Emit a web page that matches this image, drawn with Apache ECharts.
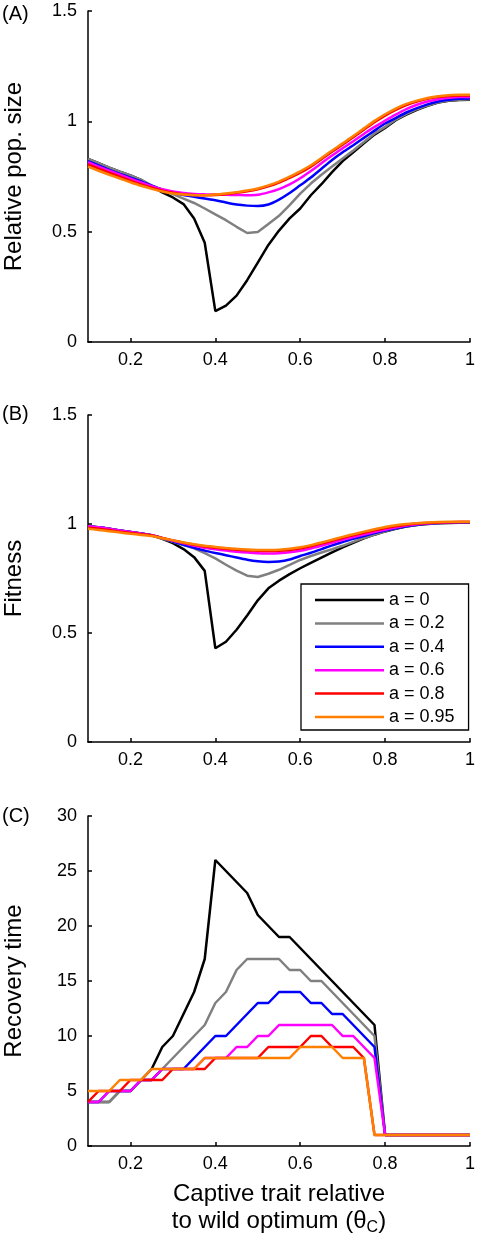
<!DOCTYPE html>
<html>
<head>
<meta charset="utf-8">
<script src="https://cdn.jsdelivr.net/npm/echarts@6/dist/echarts.min.js"></script>
<style>html,body{margin:0;padding:0;background:#fff;}#main{width:478px;height:1247px;}</style>
</head>
<body>
<div id="main"></div>
<script>
// ---- data ----
const xs = [0.1,0.125,0.15,0.175,0.2,0.225,0.25,0.275,0.3,0.325,0.35,0.375,0.4,0.425,0.45,0.475,0.5,0.525,0.55,0.575,0.6,0.625,0.65,0.675,0.7,0.725,0.75,0.775,0.8,0.825,0.85,0.875,0.9,0.925,0.95,0.975,1];
const seriesNames = ['a = 0','a = 0.2','a = 0.4','a = 0.6','a = 0.8','a = 0.95'];
const xTickValues = [0.2,0.4,0.6,0.8,1];
const xTickLabels = ['0.2','0.4','0.6','0.8','1'];
const yTickLabelsAB = ['0','0.5','1','1.5'];
const panelLabels = ['(A)','(B)','(C)'];
const yTitles = ['Relative pop. size','Fitness','Recovery time'];

// Panel A: relative population size
const popA0    = [0.83,0.81,0.79,0.772,0.755,0.735,0.705,0.678,0.655,0.625,0.56,0.45,0.14,0.165,0.21,0.28,0.36,0.44,0.505,0.56,0.605,0.665,0.715,0.77,0.82,0.86,0.9,0.94,0.97,1.005,1.03,1.052,1.07,1.085,1.093,1.097,1.098];
const popA02   = [0.83,0.81,0.79,0.772,0.755,0.735,0.71,0.69,0.67,0.65,0.63,0.605,0.578,0.552,0.522,0.494,0.498,0.535,0.572,0.62,0.672,0.718,0.758,0.795,0.832,0.868,0.906,0.945,0.975,1.008,1.034,1.055,1.072,1.086,1.094,1.098,1.1];
const popA04   = [0.82,0.80,0.78,0.762,0.745,0.728,0.708,0.69,0.676,0.666,0.658,0.65,0.642,0.632,0.623,0.618,0.616,0.623,0.645,0.675,0.71,0.745,0.785,0.825,0.86,0.892,0.925,0.958,0.99,1.015,1.04,1.06,1.077,1.09,1.098,1.102,1.103];
const popA06   = [0.815,0.795,0.776,0.758,0.74,0.723,0.706,0.692,0.682,0.675,0.671,0.669,0.668,0.667,0.666,0.665,0.667,0.678,0.693,0.714,0.742,0.775,0.81,0.845,0.878,0.91,0.943,0.975,1.003,1.03,1.055,1.075,1.09,1.1,1.107,1.11,1.11];
const popA08   = [0.805,0.786,0.767,0.749,0.731,0.714,0.699,0.686,0.677,0.67,0.666,0.665,0.666,0.67,0.676,0.683,0.692,0.705,0.722,0.744,0.767,0.795,0.828,0.862,0.894,0.928,0.962,0.996,1.026,1.052,1.074,1.09,1.102,1.11,1.115,1.117,1.117];
const popA095  = [0.795,0.776,0.758,0.741,0.724,0.708,0.694,0.682,0.673,0.668,0.665,0.665,0.668,0.673,0.679,0.687,0.696,0.71,0.727,0.749,0.773,0.801,0.834,0.868,0.9,0.934,0.968,1.002,1.032,1.058,1.079,1.094,1.106,1.114,1.118,1.12,1.12];

// Panel B: fitness
const fitB0    = [0.99,0.985,0.978,0.97,0.963,0.956,0.948,0.932,0.912,0.885,0.848,0.785,0.43,0.46,0.515,0.58,0.65,0.705,0.74,0.77,0.797,0.822,0.846,0.87,0.893,0.914,0.934,0.951,0.966,0.978,0.988,0.995,1.0,1.003,1.005,1.006,1.006];
const fitB02   = [0.99,0.985,0.978,0.97,0.963,0.956,0.948,0.933,0.918,0.903,0.888,0.866,0.842,0.813,0.786,0.763,0.757,0.772,0.79,0.812,0.835,0.853,0.869,0.884,0.9,0.918,0.936,0.952,0.967,0.979,0.989,0.996,1.001,1.004,1.006,1.007,1.007];
const fitB04   = [0.99,0.985,0.978,0.97,0.963,0.956,0.948,0.935,0.92,0.905,0.891,0.878,0.867,0.857,0.846,0.836,0.829,0.826,0.828,0.837,0.853,0.868,0.885,0.902,0.917,0.932,0.945,0.958,0.97,0.98,0.99,0.997,1.002,1.005,1.007,1.008,1.008];
const fitB06   = [0.99,0.985,0.978,0.97,0.963,0.956,0.948,0.936,0.923,0.911,0.9,0.891,0.884,0.878,0.873,0.869,0.866,0.865,0.866,0.87,0.877,0.888,0.9,0.914,0.927,0.94,0.952,0.963,0.974,0.984,0.993,0.999,1.003,1.006,1.008,1.009,1.009];
const fitB08   = [0.983,0.978,0.972,0.965,0.959,0.953,0.947,0.936,0.925,0.914,0.905,0.897,0.891,0.886,0.882,0.879,0.877,0.876,0.877,0.881,0.888,0.898,0.91,0.923,0.936,0.948,0.96,0.971,0.981,0.99,0.997,1.002,1.005,1.007,1.008,1.009,1.009];
const fitB095  = [0.978,0.973,0.967,0.961,0.955,0.95,0.945,0.935,0.925,0.915,0.907,0.9,0.895,0.89,0.886,0.883,0.881,0.881,0.882,0.886,0.893,0.903,0.915,0.928,0.941,0.953,0.965,0.976,0.986,0.994,1.0,1.004,1.007,1.009,1.01,1.01,1.01];

// Panel C: recovery time
const recC0    = [4,4,4,5,5,6,7,9,10,12,14,17,26,25,24,23,21,20,19,19,18,17,16,15,14,13,12,11,1,1,1,1,1,1,1,1,1];
const recC02   = [4,4,4,5,5,6,6,7,8,9,10,11,13,14,16,17,17,17,17,16,16,15,15,14,13,12,11,10,1,1,1,1,1,1,1,1,1];
const recC04   = [4,4,5,5,5,6,6,7,7,7,8,9,10,10,11,12,13,13,14,14,14,13,13,12,12,11,10,9,1,1,1,1,1,1,1,1,1];
const recC06   = [4,4,5,5,5,6,6,7,7,7,7,8,8,8,9,9,10,10,11,11,11,11,11,11,10,10,9,8,1,1,1,1,1,1,1,1,1];
const recC08   = [4,5,5,5,6,6,6,6,7,7,7,7,8,8,8,8,8,9,9,9,9,10,10,9,9,9,8,1,1,1,1,1,1,1,1,1,1];
const recC095  = [5,5,5,6,6,6,7,7,7,7,7,8,8,8,8,8,8,8,8,8,9,9,9,9,8,8,8,1,1,1,1,1,1,1,1,1,1];

const colors = ['#000000','#808080','#0000ff','#ff00ff','#ff0000','#ff8000'];
const panelData = [
  [popA0, popA02, popA04, popA06, popA08, popA095],
  [fitB0, fitB02, fitB04, fitB06, fitB08, fitB095],
  [recC0, recC02, recC04, recC06, recC08, recC095]
];

const FONT = '"Liberation Sans", Arial, Helvetica, sans-serif';
const grids = [
  {left: 88, width: 382, top: 11, height: 331, outerBoundsMode: 'none', containLabel: false},
  {left: 88, width: 382, top: 415, height: 327, outerBoundsMode: 'none', containLabel: false},
  {left: 88, width: 382, top: 816, height: 330, outerBoundsMode: 'none', containLabel: false}
];

const xAxes = grids.map((g, i) => ({
  type: 'value', gridIndex: i, min: 0.1, max: 1,
  axisLine: {show: true, onZero: false, lineStyle: {color: '#000', width: 1.5}},
  axisTick: {show: true, inside: true, length: 4, customValues: xTickValues, lineStyle: {color: '#000', width: 1.5}},
  axisLabel: {show: true, customValues: xTickValues, color: '#000', fontSize: 18, fontFamily: FONT, margin: 9,
    formatter: v => { const k = xTickValues.findIndex(t => Math.abs(t - v) < 1e-6); return k >= 0 ? xTickLabels[k] : ''; }},
  splitLine: {show: false},
  name: i === 2 ? 'Captive trait relative\nto wild optimum (θ{sub|C})' : '',
  nameLocation: 'middle', nameGap: 35,
  nameTextStyle: {color: '#000', fontSize: 24, fontFamily: FONT, lineHeight: 27,
    rich: {sub: {fontSize: 16, fontFamily: FONT, color: '#000', padding: [12, 0, 0, 0]}}}
}));

const yAxes = grids.map((g, i) => ({
  type: 'value', gridIndex: i,
  min: 0, max: i === 2 ? 30 : 1.5, interval: i === 2 ? 5 : 0.5,
  axisLine: {show: true, onZero: false, lineStyle: {color: '#000', width: 1.5}},
  axisTick: {show: true, inside: true, length: 4, lineStyle: {color: '#000', width: 1.5}},
  axisLabel: {color: '#000', fontSize: 18, fontFamily: FONT, margin: 11,
    formatter: v => i === 2 ? String(v) : yTickLabelsAB[Math.round(v / 0.5)]},
  splitLine: {show: false},
  name: yTitles[i], nameLocation: 'middle', nameGap: 62,
  nameTextStyle: {color: '#000', fontSize: 24, fontFamily: FONT}
}));

const series = [];
panelData.forEach((arrs, p) => {
  arrs.forEach((arr, k) => {
    series.push({
      type: 'line', name: seriesNames[k], xAxisIndex: p, yAxisIndex: p,
      data: xs.map((x, j) => [x, arr[j]]),
      showSymbol: false, symbol: 'none',
      smooth: (p < 2 && k >= 2) ? 0.25 : false,
      lineStyle: {color: colors[k], width: 2.5},
      itemStyle: {color: colors[k]},
      z: 2 + k, animation: false
    });
  });
});

const chart = echarts.init(document.getElementById('main'), null, {renderer: 'canvas'});
chart.setOption({
  backgroundColor: '#fff',
  animation: false,
  color: colors,
  grid: grids,
  xAxis: xAxes,
  yAxis: yAxes,
  legend: {
    data: seriesNames, orient: 'vertical', left: 301, top: 584,
    padding: [6, 14, 3, 14], itemGap: 3.4, itemWidth: 69, itemHeight: 2.5, itemTextGap: 8,
    icon: 'rect', backgroundColor: '#fff', borderColor: '#000', borderWidth: 1.3,
    textStyle: {color: '#000', fontSize: 18, fontFamily: FONT, lineHeight: 20},
    selectedMode: false
  },
  graphic: panelLabels.map((t, i) => ({
    type: 'text', left: 2, top: [4, 404, 806][i],
    style: {text: t, fill: '#000', fontSize: 20, fontFamily: FONT}
  })),
  series: series
});
</script>
</body>
</html>
